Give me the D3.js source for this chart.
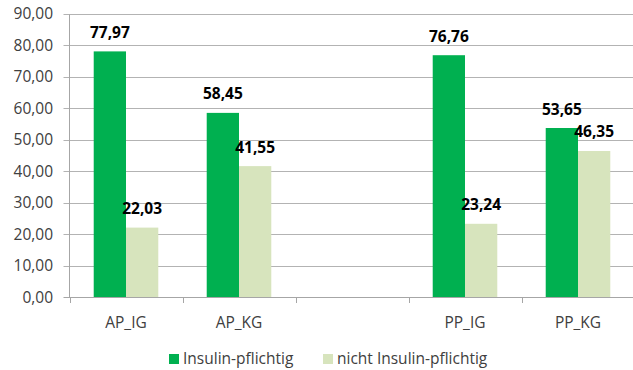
<!DOCTYPE html>
<html>
<head>
<meta charset="utf-8">
<script src="https://cdn.jsdelivr.net/npm/d3@7"></script>
<style>
  body { margin: 0; background: #fff; }
  svg { display: block; font-family: "Open Sans", sans-serif; }
</style>
</head>
<body>
<svg id="chart" width="633" height="370"></svg>
<script>
// data
const categories = ["AP_IG", "AP_KG", "", "PP_IG", "PP_KG"];
const insulin = [77.97, 58.45, null, 76.76, 53.65];
const nichtInsulin = [22.03, 41.55, null, 23.24, 46.35];
const seriesNames = ["Insulin-pflichtig", "nicht Insulin-pflichtig"];
const yTicks = [0, 10, 20, 30, 40, 50, 60, 70, 80, 90];

const colors = ["#00B050", "#D7E4BD"];
const fmt = v => d3.format(".2f")(v).replace(".", ",");

const svg = d3.select("#chart");
const left = 69.5, plotRight = 634.5;

const x = d3.scaleBand()
  .domain(d3.range(categories.length))
  .range([left, plotRight]);
const x1 = d3.scaleBand()
  .domain([0, 1])
  .range([0, x.bandwidth()])
  .paddingOuter(0.75).paddingInner(0);

const y = d3.scaleLinear().domain([0, 90]).range([297, 13.5]);

// grid lines
svg.append("g")
  .selectAll("line")
  .data(yTicks)
  .enter().append("line")
  .attr("x1", left - 6)
  .attr("x2", 633)
  .attr("y1", d => Math.round(y(d)) + 0.5)
  .attr("y2", d => Math.round(y(d)) + 0.5)
  .style("stroke", d => d === 0 ? "#A6A6A6" : "#B3B3B3")
  .style("stroke-width", 1.2);

// y axis line
svg.append("line")
  .attr("x1", left).attr("x2", left)
  .attr("y1", Math.round(y(90)) + 0.5).attr("y2", Math.round(y(0)) + 0.5)
  .style("stroke", "#A6A6A6");

// y tick labels
svg.append("g")
  .selectAll("text")
  .data(yTicks)
  .enter().append("text")
  .attr("x", 53)
  .attr("y", d => y(d) + 5.5)
  .attr("text-anchor", "end")
  .style("font-size", "15.5px")
  .style("fill", "#404040")
  .text(d => fmt(d));

// x ticks at category boundaries
svg.append("g")
  .selectAll("line")
  .data(d3.range(categories.length))
  .enter().append("line")
  .attr("x1", d => Math.round(x(d)) + 0.5)
  .attr("x2", d => Math.round(x(d)) + 0.5)
  .attr("y1", Math.round(y(0)))
  .attr("y2", Math.round(y(0)) + 6)
  .style("stroke", "#A6A6A6");

// category labels
svg.append("g")
  .selectAll("text")
  .data(categories)
  .enter().append("text")
  .attr("x", (d, i) => x(i) + x.bandwidth() / 2)
  .attr("y", 327.5)
  .attr("text-anchor", "middle")
  .style("font-size", "15.5px")
  .style("fill", "#404040")
  .text(d => d);

// bars
const series = [insulin, nichtInsulin];
series.forEach(function(vals, s) {
  const g = svg.append("g");
  const pts = vals.map((v, i) => ({ v: v, i: i })).filter(d => d.v !== null);
  g.selectAll("rect")
    .data(pts)
    .enter().append("rect")
    .attr("x", d => x(d.i) + x1(s))
    .attr("width", x1.bandwidth())
    .attr("y", d => y(d.v))
    .attr("height", d => y(0) - y(d.v))
    .style("fill", colors[s]);
  g.selectAll("text")
    .data(pts)
    .enter().append("text")
    .attr("x", d => x(d.i) + x1(s) + x1.bandwidth() / 2)
    .attr("y", d => y(d.v) - 13.5)
    .attr("text-anchor", "middle")
    .style("font-size", "15.5px")
    .style("font-weight", "bold")
    .style("fill", "#000")
    .text(d => fmt(d.v));
});

// legend
const legendX = [169, 323];
const legend = svg.append("g");
seriesNames.forEach(function(name, s) {
  legend.append("rect")
    .attr("x", legendX[s]).attr("y", 354)
    .attr("width", 10).attr("height", 10)
    .style("fill", colors[s]);
  legend.append("text")
    .attr("x", legendX[s] + 14).attr("y", 364)
    .style("font-size", "15.5px")
    .style("fill", "#404040")
    .text(name);
});
</script>
</body>
</html>
